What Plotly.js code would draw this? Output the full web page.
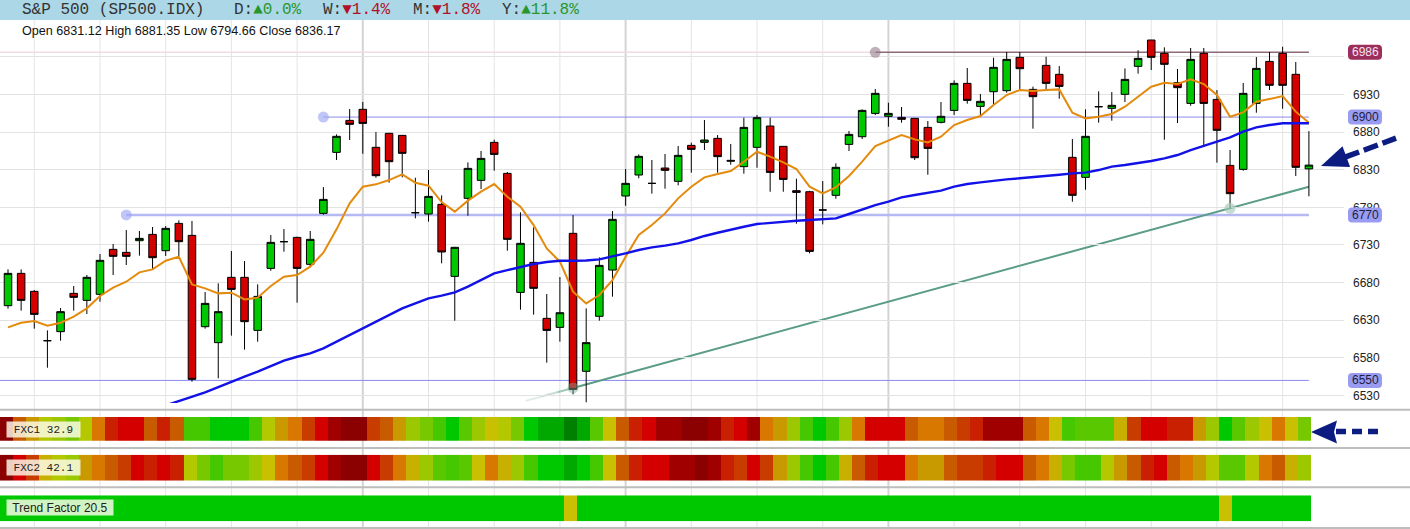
<!DOCTYPE html>
<html>
<head>
<meta charset="utf-8">
<script src="https://cdn.plot.ly/plotly-3.0.1.min.js"></script>
<style>
  html, body { margin: 0; padding: 0; background: #ffffff; }
  #chart { width: 1410px; height: 529px; }
</style>
</head>
<body>
<div id="chart"></div>
<script>
// ---- S&P 500 daily candles (100 sessions) ----
const open = [6649.3, 6692.3, 6668.4, 6602.8, 6614.8, 6665.7, 6656.4, 6664.4, 6724.2, 6720.2,
  6735.7, 6744.1, 6722.4, 6758.7, 6742.8, 6621.4, 6600.2, 6687.0, 6687.0, 6616.5,
  6698.9, 6734.4, 6740.1, 6704.3, 6772.0, 6853.1, 6895.6, 6910.3, 6859.8, 6878.4,
  6875.7, 6772.9, 6771.2, 6784.0, 6688.3, 6792.0, 6815.9, 6866.4, 6825.2, 6667.0,
  6706.9, 6632.5, 6620.5, 6745.5, 6562.1, 6635.2, 6696.7, 6795.1, 6823.0, 6811.9,
  6832.3, 6814.6, 6862.4, 6866.4, 6871.7, 6842.5, 6834.1, 6859.8, 6888.1, 6861.1,
  6802.2, 6800.8, 6776.5, 6796.0, 6863.7, 6873.9, 6904.9, 6901.0, 6899.6, 6898.3,
  6886.3, 6893.0, 6908.9, 6944.8, 6914.2, 6933.7, 6935.1, 6979.4, 6936.8, 6968.7,
  6956.8, 6846.5, 6819.9, 6913.8, 6911.6, 6930.2, 6967.4, 7002.4, 6984.7, 6945.7,
  6918.2, 6984.7, 6923.5, 6835.8, 6830.5, 6918.2, 6974.0, 6984.7, 6956.8, 6831.12];

const high = [6697.6, 6697.6, 6670.1, 6616.5, 6646.2, 6675.5, 6690.1, 6718.0, 6731.3, 6749.9,
  6748.6, 6753.9, 6755.2, 6762.7, 6761.9, 6667.5, 6679.0, 6722.0, 6708.7, 6677.7,
  6743.2, 6751.2, 6741.0, 6748.6, 6807.0, 6877.0, 6910.7, 6920.0, 6880.1, 6879.0,
  6876.2, 6819.4, 6829.6, 6796.0, 6727.5, 6839.8, 6854.9, 6869.9, 6827.0, 6773.4,
  6753.4, 6664.8, 6687.4, 6769.8, 6645.8, 6713.6, 6775.1, 6831.0, 6850.4, 6842.9,
  6850.9, 6861.5, 6866.0, 6896.1, 6876.1, 6864.2, 6899.2, 6902.7, 6899.2, 6861.5,
  6818.1, 6802.0, 6815.0, 6838.5, 6881.5, 6910.3, 6937.3, 6919.1, 6913.4, 6898.5,
  6894.8, 6920.0, 6948.8, 6965.2, 6930.6, 6978.9, 6986.5, 6986.5, 6940.4, 6980.2,
  6967.8, 6870.8, 6910.3, 6934.2, 6933.3, 6964.7, 6988.7, 7002.6, 6992.7, 6963.9,
  6991.8, 6991.8, 6935.9, 6856.2, 6945.3, 6979.8, 6986.5, 6993.5, 6973.2, 6881.35];

const low = [6645.3, 6642.7, 6618.8, 6566.9, 6602.8, 6642.7, 6638.3, 6654.6, 6690.1, 6703.4,
  6715.8, 6696.7, 6715.4, 6715.4, 6548.3, 6618.8, 6552.8, 6609.5, 6590.9, 6601.5,
  6695.8, 6721.1, 6653.3, 6701.2, 6770.3, 6842.9, 6869.5, 6851.3, 6819.4, 6812.8,
  6819.9, 6765.4, 6761.0, 6705.6, 6629.4, 6768.9, 6804.4, 6828.7, 6722.4, 6644.0,
  6637.4, 6573.6, 6601.5, 6531.5, 6520.9, 6629.4, 6661.3, 6782.2, 6818.6, 6798.2,
  6804.8, 6809.3, 6826.1, 6856.2, 6826.1, 6836.7, 6824.8, 6832.7, 6800.8, 6800.8,
  6758.3, 6718.9, 6757.4, 6791.5, 6854.9, 6870.8, 6902.7, 6887.2, 6892.5, 6842.9,
  6823.4, 6891.6, 6902.7, 6917.8, 6901.4, 6916.5, 6932.4, 6936.8, 6884.6, 6936.8,
  6924.4, 6787.5, 6803.5, 6892.5, 6895.2, 6920.0, 6957.7, 6962.5, 6869.9, 6892.1,
  6915.1, 6861.5, 6839.4, 6778.7, 6828.7, 6905.8, 6935.9, 6911.1, 6821.7, 6794.66];

const close = [6692.3, 6656.4, 6637.8, 6602.8, 6641.4, 6660.4, 6687.0, 6709.6, 6714.9, 6714.9,
  6738.8, 6713.1, 6752.1, 6734.4, 6551.4, 6652.4, 6641.4, 6671.0, 6628.1, 6661.7,
  6733.5, 6734.4, 6698.9, 6737.5, 6790.6, 6874.4, 6890.3, 6891.6, 6822.1, 6840.7,
  6851.8, 6772.9, 6794.6, 6720.7, 6726.9, 6831.8, 6845.1, 6850.4, 6737.5, 6732.2,
  6672.4, 6616.5, 6640.0, 6538.1, 6600.2, 6702.9, 6764.1, 6811.9, 6847.8, 6811.9,
  6829.2, 6849.1, 6857.1, 6869.5, 6847.4, 6841.5, 6886.3, 6899.2, 6826.5, 6817.2,
  6799.9, 6721.5, 6776.5, 6833.2, 6877.0, 6908.9, 6931.5, 6904.9, 6897.0, 6846.0,
  6858.4, 6901.0, 6944.8, 6922.2, 6920.9, 6966.1, 6976.7, 6964.3, 6927.1, 6944.8,
  6940.8, 6796.0, 6874.4, 6913.8, 6915.6, 6950.1, 6978.0, 6979.4, 6970.1, 6939.1,
  6976.7, 6918.2, 6882.4, 6798.2, 6931.5, 6964.7, 6942.2, 6942.2, 6833.2, 6836.17];

// ---- moving averages (fast = orange, slow = blue) ----
const maFast = [6620.5, 6626.7, 6629.0, 6622.8, 6626.7, 6634.7, 6645.8, 6662.2, 6673.3, 6681.2,
  6693.6, 6697.6, 6709.1, 6714.4, 6677.7, 6672.4, 6665.7, 6666.6, 6657.7, 6660.0,
  6675.5, 6687.9, 6690.1, 6701.2, 6719.8, 6750.8, 6785.3, 6807.5, 6810.6, 6816.3,
  6823.9, 6812.8, 6808.8, 6787.0, 6774.3, 6788.9, 6800.8, 6811.0, 6794.2, 6780.9,
  6756.5, 6725.5, 6707.8, 6667.9, 6652.4, 6663.5, 6683.4, 6714.4, 6743.3, 6756.5,
  6772.0, 6792.0, 6807.5, 6819.9, 6824.3, 6828.3, 6840.7, 6854.0, 6847.4, 6839.8,
  6831.0, 6807.5, 6798.6, 6806.6, 6821.7, 6840.7, 6861.5, 6869.0, 6876.2, 6870.4,
  6866.4, 6873.9, 6889.4, 6896.1, 6901.4, 6916.0, 6929.3, 6936.0, 6934.6, 6936.0,
  6936.8, 6905.8, 6898.3, 6900.5, 6904.1, 6913.8, 6927.1, 6940.4, 6945.7, 6943.9,
  6950.1, 6943.9, 6929.3, 6900.5, 6906.3, 6920.4, 6924.0, 6928.0, 6907.2, 6892.5];

const maSlow = [null, null, null, null, null, null, null, null, null, null,
  null, null, 6516.8, 6522.6, 6527.5, 6534.0, 6541.0, 6548.3, 6555.0, 6561.6,
  6569.1, 6576.2, 6581.5, 6586.0, 6592.6, 6601.5, 6610.4, 6619.2, 6628.1, 6637.0,
  6645.8, 6652.4, 6659.1, 6662.8, 6667.0, 6674.6, 6683.4, 6692.3, 6696.7, 6701.2,
  6704.7, 6707.4, 6709.1, 6709.1, 6709.3, 6710.9, 6714.4, 6718.9, 6723.3, 6726.9,
  6729.1, 6732.2, 6736.6, 6742.0, 6746.3, 6750.8, 6754.3, 6757.9, 6759.6, 6761.0,
  6762.3, 6763.2, 6764.1, 6765.4, 6771.2, 6777.4, 6783.1, 6787.6, 6793.3, 6796.4,
  6799.5, 6802.2, 6807.5, 6811.0, 6813.2, 6815.5, 6817.2, 6818.6, 6819.9, 6821.7,
  6823.4, 6825.2, 6826.1, 6829.6, 6834.1, 6836.3, 6838.5, 6841.6, 6845.1, 6849.6,
  6856.2, 6862.0, 6867.3, 6873.0, 6880.6, 6886.3, 6889.4, 6891.7, 6891.7, 6891.7];

// ---- indicator strips ----
const fxc1 = [98, 67, 58, 46, 42, 33, 46, 62, 76, 82,
  82, 67, 76, 67, 28, 28, 20, 20, 20, 28,
  46, 58, 62, 72, 82, 90, 98, 98, 72, 67,
  58, 42, 33, 28, 20, 31, 42, 50, 46, 33,
  20, 10, 10, 3, 10, 31, 50, 67, 76, 82,
  90, 90, 98, 98, 90, 76, 82, 90, 62, 58,
  42, 28, 20, 28, 42, 62, 82, 82, 82, 67,
  62, 62, 67, 72, 76, 90, 90, 90, 67, 62,
  50, 28, 31, 31, 31, 54, 72, 82, 82, 76,
  76, 58, 42, 20, 31, 42, 50, 62, 50, 32.9];

const fxc2 = [98, 82, 72, 54, 46, 42, 58, 62, 67, 72,
  82, 76, 82, 76, 46, 33, 28, 33, 33, 42,
  50, 62, 67, 72, 82, 90, 98, 98, 82, 72,
  62, 54, 42, 31, 28, 31, 50, 62, 54, 42,
  28, 20, 20, 10, 20, 28, 50, 67, 76, 82,
  82, 90, 90, 98, 90, 76, 72, 82, 72, 58,
  42, 28, 20, 28, 54, 67, 76, 82, 82, 62,
  58, 58, 67, 72, 72, 76, 82, 82, 67, 62,
  54, 33, 28, 28, 46, 58, 67, 76, 82, 67,
  62, 58, 46, 31, 31, 46, 62, 67, 54, 42.1];

const trendFactor = [21, 21, 21, 21, 21, 21, 21, 21, 21, 21,
  21, 21, 21, 21, 21, 21, 21, 21, 21, 21,
  21, 21, 21, 21, 21, 21, 21, 21, 21, 21,
  21, 21, 21, 21, 21, 21, 21, 21, 21, 21,
  21, 21, 21, 50, 21, 21, 21, 21, 21, 21,
  21, 21, 21, 21, 21, 21, 21, 21, 21, 21,
  21, 21, 21, 21, 21, 21, 21, 21, 21, 21,
  21, 21, 21, 21, 21, 21, 21, 21, 21, 21,
  21, 21, 21, 21, 21, 21, 21, 21, 21, 21,
  21, 21, 21, 50, 21, 21, 21, 21, 21, 20.5];

// ---- drawn levels and trend line ----
const levelPrices = [6986, 6900, 6770, 6550];
const levelFrom = [66, 24, 9, null];
const trendIdx = [43, 93];
const trendPrice = [6540, 6778.8];

// ---- axis ticks (the 6980 line carries no label: the 6986 badge sits there) ----
const priceTicks = [6530, 6580, 6630, 6680, 6730, 6780, 6830, 6880, 6930, 6980];
const priceTickText = ['6530', '6580', '6630', '6680', '6730', '6780', '6830', '6880', '6930', ''];
const weekTicks = [2, 7, 12, 17, 22, 27, 32, 37, 42, 47, 52, 57, 62, 67, 72, 77, 82, 87, 92, 97];
const monthTicks = [27, 47, 67];

// ---- header texts ----
const symbolTitle = 'S&amp;P 500 (SP500.IDX)';
const perfLabels = ['D:', 'W:', 'M:', 'Y:'];
const perfValues = [0.0, -1.4, -1.8, 11.8];
const fxc1Label = 'FXC1 32.9';
const fxc2Label = 'FXC2 42.1';
const trendLabel = 'Trend Factor 20.5';

// ---------------------------------------------------------------
const days = close.map((_, i) => i);
const lastDay = days[days.length - 1];

const W = 1410, H = 529;
const fx = x => x / W;
const fy = y => 1 - y / H;

const PLOT_TOP = 24, PLOT_BOTTOM = 403, PLOT_RIGHT = 1344;
const xMain = [-0.609, 101.67];
const xHeat = [-0.5, 102.02];
const yMain = [6520, 7023.7];

const heatScale = [
  [0, '#006e00'], [3, '#008000'], [10, '#00a800'], [20, '#00c800'], [24, '#00c800'],
  [28, '#46c800'], [31, '#5ac800'], [33, '#78c800'], [42, '#9bc800'], [46, '#b4c800'],
  [50, '#c8c000'], [54, '#c8b000'], [58, '#c89a00'], [62, '#d87800'], [67, '#c85a00'],
  [72, '#c83c00'], [76, '#c82000'], [82, '#d40000'], [90, '#a00000'], [98, '#8b0000'],
  [100, '#8b0000']
].map(([v, c]) => [v / 100, c]);

const MONO = 'Liberation Mono, DejaVu Sans Mono, monospace';
const SANS = 'Liberation Sans, Arial, sans-serif';

const traces = [];

traces.push({
  type: 'candlestick', x: days, open: open, high: high, low: low, close: close,
  xaxis: 'x', yaxis: 'y', whiskerwidth: 0, hoverinfo: 'skip',
  increasing: { fillcolor: '#00c800', line: { color: '#000000', width: 1 } },
  decreasing: { fillcolor: '#d40000', line: { color: '#000000', width: 1 } }
});

traces.push({
  type: 'scatter', mode: 'lines', x: days, y: maFast, xaxis: 'x', yaxis: 'y',
  line: { color: '#e48a0c', width: 2 }, hoverinfo: 'skip'
});
traces.push({
  type: 'scatter', mode: 'lines', x: days, y: maSlow, xaxis: 'x', yaxis: 'y',
  line: { color: '#1212e8', width: 2.4 }, hoverinfo: 'skip'
});

// anchor dots of the drawn levels and trend line
const anchorX = levelFrom.filter(v => v !== null).concat(trendIdx);
const anchorY = levelPrices.filter((_, k) => levelFrom[k] !== null).concat(trendPrice);
traces.push({
  type: 'scatter', mode: 'markers', x: anchorX, y: anchorY, xaxis: 'x', yaxis: 'y',
  marker: {
    size: 11,
    color: ['rgba(150,125,138,0.6)', 'rgba(160,168,244,0.65)', 'rgba(160,168,244,0.65)',
            'rgba(120,170,150,0.45)', 'rgba(165,205,185,0.65)'],
    line: { width: 0 }
  },
  hoverinfo: 'skip'
});

const heatRows = [
  { z: fxc1, y: 'y2' },
  { z: fxc2, y: 'y3' },
  { z: trendFactor, y: 'y4' }
];
heatRows.forEach(r => traces.push({
  type: 'heatmap', x: days, y: [0], z: [r.z], xaxis: 'x2', yaxis: r.y,
  zmin: 0, zmax: 100, colorscale: heatScale, showscale: false, hoverinfo: 'skip'
}));

// ---- shapes ----
const shapes = [];

// header band
shapes.push({ type: 'rect', xref: 'paper', yref: 'paper', x0: 0, x1: 1, y0: fy(20), y1: 1,
  fillcolor: '#acd7e6', line: { width: 0 }, layer: 'below' });

// vertical grid through the price pane and the strips
weekTicks.forEach(t => {
  const isMonth = monthTicks.includes(t);
  shapes.push({ type: 'line', xref: 'x', yref: 'paper', x0: t, x1: t, y0: fy(528), y1: fy(20),
    line: { color: isMonth ? '#d4d4d4' : '#e4e4e4', width: isMonth ? 2 : 1 }, layer: 'below' });
});

// pane separators
[409.7, 448, 487.3, 528].forEach(y => shapes.push({
  type: 'line', xref: 'paper', yref: 'paper', x0: 0, x1: 1, y0: fy(y), y1: fy(y),
  line: { color: '#bdbdbd', width: 2 }, layer: 'above'
}));

// horizontal levels
const levelStyle = [
  { color: '#8d6878', width: 1.5, faint: '#eedde3' },
  { color: '#8c8ce8', width: 1 },
  { color: '#b4b8f3', width: 2.5 },
  { color: '#8a8af0', width: 1 }
];
levelPrices.forEach((p, k) => {
  const from = levelFrom[k] === null ? xMain[0] : levelFrom[k];
  shapes.push({ type: 'line', xref: 'x', yref: 'y', x0: from, x1: lastDay, y0: p, y1: p,
    line: { color: levelStyle[k].color, width: levelStyle[k].width }, layer: 'below' });
  if (levelStyle[k].faint && levelFrom[k] !== null) {
    shapes.push({ type: 'line', xref: 'x', yref: 'y', x0: xMain[0], x1: from, y0: p, y1: p,
      line: { color: levelStyle[k].faint, width: 1.5 }, layer: 'below' });
  }
});

// trend line through its two anchors, extended to the last session
const trendSlope = (trendPrice[1] - trendPrice[0]) / (trendIdx[1] - trendIdx[0]);
const trendAt = i => trendPrice[0] + trendSlope * (i - trendIdx[0]);
shapes.push({ type: 'line', xref: 'x', yref: 'y', x0: trendIdx[0], x1: lastDay,
  y0: trendAt(trendIdx[0]), y1: trendAt(lastDay),
  line: { color: '#5a9c86', width: 2 }, layer: 'below' });
[[3.6, 2.4, 0.18], [2.4, 1.2, 0.32], [1.2, 0, 0.55]].forEach(([a, b, op]) => {
  const i0 = trendIdx[0] - a, i1 = trendIdx[0] - b;
  shapes.push({ type: 'line', xref: 'x', yref: 'y', x0: i0, x1: i1, y0: trendAt(i0), y1: trendAt(i1),
    line: { color: '#5a9c86', width: 2 }, opacity: op, layer: 'below' });
});

// price badges on the right scale
const badgeFill = ['#9c2e5c', '#9a9cf2', '#9a9cf2', '#9a9cf2'];
const badgeText = ['#f6e4ee', '#1c1c3c', '#1c1c3c', '#1c1c3c'];
const badgePath = 'M -13 -7.5 L 13 -7.5 Q 17 -7.5 17 -3.5 L 17 3.5 Q 17 7.5 13 7.5 ' +
                  'L -13 7.5 Q -17 7.5 -17 3.5 L -17 -3.5 Q -17 -7.5 -13 -7.5 Z';
levelPrices.forEach((p, k) => shapes.push({
  type: 'path', xref: 'paper', yref: 'y', xsizemode: 'pixel', ysizemode: 'pixel',
  xanchor: fx(1365), yanchor: p, path: badgePath,
  fillcolor: badgeFill[k], line: { width: 0 }, layer: 'above'
}));

// dashed pointer arrows
const NAVY = '#0c1c80';
const pathOf = pts => 'M ' + pts.map(([x, y]) => fx(x) + ' ' + fy(y)).join(' L ') + ' Z';
shapes.push({ type: 'path', xref: 'paper', yref: 'paper',
  path: pathOf([[1321, 166], [1350.1, 166.9], [1342.5, 146.3]]),
  fillcolor: NAVY, line: { width: 0 }, layer: 'above' });
shapes.push({ type: 'line', xref: 'paper', yref: 'paper',
  x0: fx(1345), y0: fy(157.2), x1: fx(1396), y1: fy(138.2),
  line: { color: NAVY, width: 5.5, dash: '15px,5px' }, layer: 'above' });
shapes.push({ type: 'path', xref: 'paper', yref: 'paper',
  path: pathOf([[1311, 432], [1337, 420.5], [1334, 432], [1337, 443.5]]),
  fillcolor: NAVY, line: { width: 0 }, layer: 'above' });
shapes.push({ type: 'line', xref: 'paper', yref: 'paper',
  x0: fx(1336), y0: fy(431.5), x1: fx(1381), y1: fy(431.5),
  line: { color: NAVY, width: 5.5, dash: '10px,6px' }, layer: 'above' });

// ---- annotations ----
const annotations = [];

annotations.push({ xref: 'paper', yref: 'paper', x: fx(20), y: fy(10), xanchor: 'left', yanchor: 'middle',
  text: symbolTitle, showarrow: false, font: { family: MONO, size: 16, color: '#333333' } });

const perfX = [232, 321, 411, 500];
perfLabels.forEach((lab, k) => {
  const v = perfValues[k];
  const up = v >= 0;
  const col = up ? '#2a962a' : '#b0102a';
  const txt = lab + '<span style="color:' + col + '">' + (up ? '▲' : '▼') + Math.abs(v).toFixed(1) + '%</span>';
  annotations.push({ xref: 'paper', yref: 'paper', x: fx(perfX[k]), y: fy(10), xanchor: 'left', yanchor: 'middle',
    text: txt, showarrow: false, font: { family: MONO, size: 16, color: '#333333' } });
});

const last = days.length - 1;
annotations.push({ xref: 'paper', yref: 'paper', x: fx(20), y: fy(31), xanchor: 'left', yanchor: 'middle',
  text: 'Open ' + open[last].toFixed(2) + ' High ' + high[last].toFixed(2) +
        ' Low ' + low[last].toFixed(2) + ' Close ' + close[last].toFixed(2),
  showarrow: false, font: { family: SANS, size: 12.6, color: '#111111' } });

levelPrices.forEach((p, k) => annotations.push({
  xref: 'paper', yref: 'y', x: fx(1365), y: p, xanchor: 'center', yanchor: 'middle',
  text: String(p), showarrow: false, font: { family: SANS, size: 12, color: badgeText[k] }
}));

const stripLabels = [
  { text: fxc1Label, y: 429.5, w: 73, font: { family: MONO, size: 11, color: '#222222' } },
  { text: fxc2Label, y: 467.2, w: 73, font: { family: MONO, size: 11, color: '#222222' } },
  { text: trendLabel, y: 507.8, w: 106, font: { family: SANS, size: 12, color: '#222222' } }
];
stripLabels.forEach(s => annotations.push({
  xref: 'paper', yref: 'paper', x: fx(6), y: fy(s.y), xanchor: 'left', yanchor: 'middle',
  text: s.text, showarrow: false, width: s.w, height: 15, align: 'center', borderpad: 0,
  bgcolor: 'rgba(255,252,238,0.82)', font: s.font
}));

// ---- layout ----
const layout = {
  width: W, height: H,
  margin: { l: 0, r: 0, t: 0, b: 0, pad: 0 },
  paper_bgcolor: '#ffffff', plot_bgcolor: 'rgba(0,0,0,0)',
  showlegend: false, boxgap: 0.18, hovermode: false,
  xaxis: { domain: [0, fx(PLOT_RIGHT)], range: xMain, anchor: 'y', showgrid: false, zeroline: false,
    showticklabels: false, ticks: '', showline: false, rangeslider: { visible: false }, fixedrange: true },
  yaxis: { domain: [fy(PLOT_BOTTOM), fy(PLOT_TOP)], range: yMain, anchor: 'x', side: 'right',
    tickmode: 'array', tickvals: priceTicks, ticktext: priceTickText,
    showgrid: true, gridcolor: '#e2e2e2', gridwidth: 1, zeroline: false, showline: false,
    ticks: '', ticklabelstandoff: 8, tickfont: { family: SANS, size: 12, color: '#222222' }, fixedrange: true },
  xaxis2: { domain: [0, fx(PLOT_RIGHT)], range: xHeat, anchor: 'y2', visible: false, fixedrange: true },
  yaxis2: { domain: [fy(440.7), fy(417)], range: [-0.5, 0.5], anchor: 'x2', visible: false, fixedrange: true },
  yaxis3: { domain: [fy(480.7), fy(454.7)], range: [-0.5, 0.5], anchor: 'x2', visible: false, fixedrange: true },
  yaxis4: { domain: [fy(521.3), fy(495.3)], range: [-0.5, 0.5], anchor: 'x2', visible: false, fixedrange: true },
  shapes: shapes,
  annotations: annotations
};

Plotly.newPlot('chart', traces, layout, { displayModeBar: false, staticPlot: true });
</script>
</body>
</html>
